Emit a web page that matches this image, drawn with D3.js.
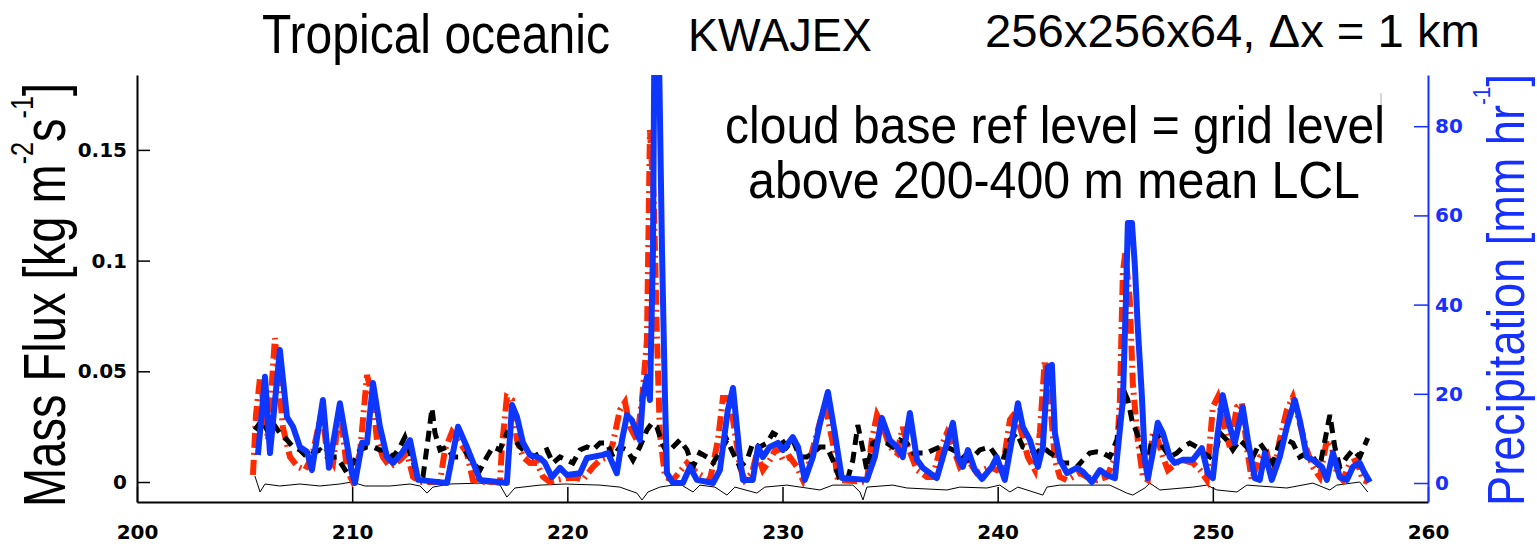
<!DOCTYPE html>
<html><head><meta charset="utf-8">
<script src="https://cdn.jsdelivr.net/npm/d3@7"></script>
<style>html,body{margin:0;padding:0;background:#fff}svg{display:block}</style>
</head><body>
<svg id="chart" width="1537" height="546"></svg>
<script>
// ---------- data ----------
const xTicks = [200, 210, 220, 230, 240, 250, 260];
const leftTicks = [0, 0.05, 0.1, 0.15];
const rightTicks = [0, 20, 40, 60, 80];

// precipitation [mm/hr] (right axis, blue solid)
const precipT = [205.62,205.95,206.18,206.64,206.97,207.25,207.57,207.90,208.13,208.64,
208.92,209.43,209.99,210.13,210.46,210.69,210.97,211.29,211.62,211.90,
212.31,212.69,213.06,214.41,214.92,215.33,215.94,217.19,217.43,217.66,
217.94,218.26,218.73,218.96,219.28,219.66,219.98,220.59,220.91,221.65,
221.89,222.30,222.54,222.77,223.00,223.23,223.37,223.51,223.70,223.84,
223.98,224.07,224.21,224.40,224.54,224.63,224.91,225.37,225.70,226.02,
226.77,227.09,227.46,227.70,228.02,228.16,228.62,228.86,229.09,229.41,
229.79,230.02,230.48,230.72,231.04,231.41,231.74,232.11,232.43,232.76,
233.92,234.29,234.62,234.99,235.32,235.59,235.92,236.25,236.52,237.17,
237.55,237.92,238.15,238.38,238.62,238.94,239.27,239.73,239.96,240.33,
240.66,240.94,241.17,241.50,241.87,242.10,242.33,242.52,242.66,242.89,
243.22,243.68,243.96,244.38,244.75,245.07,245.45,245.82,245.96,246.05,
246.24,246.38,246.51,246.70,246.84,246.98,247.21,247.44,247.68,248.00,
248.23,248.61,249.07,249.49,249.77,250.00,250.23,250.46,250.79,251.02,
251.39,251.63,251.95,252.18,252.42,252.74,253.11,253.44,253.81,254.04,
254.37,254.65,255.07,255.30,255.58,255.90,256.23,256.51,256.83,257.06,
257.30];
const precipV = [6.3,23.8,6.7,29.8,14.8,12.6,8.1,7.0,2.9,18.6,
3.4,17.9,2.2,0,9.0,9.0,22.4,12.6,5.8,4.5,
6.7,9.6,0.7,0,12.6,8.1,0.7,0,17.5,14.8,
9.0,6.3,5.6,4.5,1.3,3.4,1.8,2.2,5.6,6.3,
6.7,2.2,9.6,15.2,14.1,11.2,9.6,19.3,23.8,18.6,
52,115,112,52,18.6,2.2,0,0,3.6,0.7,
0,2.9,16.4,21.3,5.8,0.7,0.7,8.1,5.8,8.1,
9.0,7.4,10.3,8.1,0.7,5.8,13.5,20.4,11.2,1.1,
0.7,5.8,14.6,9.6,8.1,5.8,15.7,5.2,3.4,1.1,
7.4,13.5,5.8,3.6,7.4,2.9,0.9,3.6,5.8,0.7,
9.6,17.9,12.6,9.6,3.6,8.1,26.0,26.5,11.2,5.2,
2.2,3.4,2.5,0.2,2.9,1.8,1.1,18.6,41.0,58.3,
58.3,48.4,35.0,19.7,5.2,1.1,6.7,13.5,11.2,5.8,
4.5,5.2,5.2,7.8,2.2,1.1,11.2,19.7,12.6,9.0,
17.0,9.6,1.1,0.7,6.7,0.7,5.8,12.6,18.6,14.1,
5.8,5.2,3.6,0.7,6.7,1.3,0.7,3.6,4.5,2.2,
0.2];

// mass flux, red dash-dot (left axis)
const redT = [205.39,205.53,205.72,206.09,206.41,206.78,207.11,207.48,207.81,208.13,
208.60,208.83,209.11,209.43,209.76,209.99,210.36,210.69,210.97,211.15,
211.43,211.76,212.22,212.55,212.83,213.15,214.08,214.31,214.64,214.92,
215.33,215.61,215.94,216.87,216.96,217.19,217.43,217.66,217.94,218.26,
218.59,218.87,219.19,219.52,219.98,220.45,220.72,221.19,221.52,221.89,
222.12,222.44,222.68,222.91,223.23,223.47,223.70,223.84,224.02,224.16,
224.30,224.54,224.91,225.56,226.02,226.63,227.00,227.23,227.46,227.70,
227.88,228.02,228.25,228.58,228.81,229.09,229.41,229.74,230.02,230.34,
230.67,230.95,231.27,231.60,231.97,232.34,232.57,233.92,234.15,234.39,
234.67,234.99,235.32,235.59,235.83,236.25,236.71,236.99,237.31,237.64,
237.92,238.24,238.62,239.03,239.64,239.96,240.24,240.57,240.80,241.12,
241.40,241.73,241.96,242.19,242.43,242.66,242.89,243.22,243.82,244.15,
244.61,245.07,245.54,245.68,245.82,245.93,246.14,246.28,246.51,246.75,
246.98,247.21,247.44,247.68,247.91,248.33,248.61,249.07,249.40,249.72,
250.00,250.23,250.46,250.79,251.12,251.35,251.58,251.81,252.18,252.51,
252.79,253.11,253.44,253.72,254.04,254.37,254.65,254.97,255.30,255.53,
255.76,256.04,256.37,256.69,256.97,257.20];
const redV = [0.0032,0.0303,0.0474,0.0190,0.0650,0.0248,0.0113,0.0068,0.0054,0.0113,
0.0325,0.0131,0.0086,0.0339,0.0054,0.0009,0.0131,0.0483,0.0370,0.0190,
0.0113,0.0068,0.0099,0.0131,0.0023,0,0,0.0145,0.0226,0.0190,
0.0131,0.0009,0,0,0.0158,0.0384,0.0370,0.0190,0.0113,0.0086,
0.0086,0.0023,0,0.0009,0.0018,0.0018,0.0009,0.0068,0.0099,0.0113,
0.0176,0.0325,0.0361,0.0248,0.0190,0.0370,0.0641,0.1590,0.1274,0.0673,
0.0221,0.0023,0.0009,0.0086,0.0041,0.0009,0.0190,0.0379,0.0379,0.0280,
0.0167,0.0068,0.0009,0.0041,0.0131,0.0054,0.0099,0.0158,0.0099,0.0113,
0.0068,0.0009,0.0099,0.0221,0.0348,0.0176,0.0009,0,0.0190,0.0303,
0.0248,0.0158,0.0131,0.0248,0.0158,0.0054,0.0023,0.0023,0.0145,0.0221,
0.0158,0.0068,0.0099,0.0041,0.0068,0.0054,0.0068,0.0280,0.0312,0.0221,
0.0113,0.0054,0.0221,0.0551,0.0370,0.0099,0.0023,0.0009,0.0041,0.0023,
0.0009,0.0023,0.0131,0.0370,0.0950,0.1034,0.0822,0.0447,0.0190,0.0023,
0.0009,0.0221,0.0190,0.0113,0.0054,0.0086,0.0099,0.0086,0.0054,0.0009,
0.0339,0.0384,0.0280,0.0158,0.0339,0.0357,0.0158,0.0009,0.0113,0.0131,
0.0023,0.0190,0.0325,0.0384,0.0266,0.0145,0.0068,0.0023,0.0190,0.0158,
0.0041,0.0009,0.0086,0.0099,0.0009,0];

// mass flux, black dashed (left axis)
const blackT = [205.48,205.81,206.09,206.32,206.64,206.97,207.25,207.57,207.90,208.18,
208.50,208.83,209.29,209.76,210.04,210.36,210.69,210.97,211.29,211.62,
211.90,212.22,212.45,212.69,213.01,213.29,213.52,213.71,213.85,214.08,
214.41,214.68,215.01,215.33,215.61,215.94,216.26,216.54,216.87,217.19,
217.47,217.80,218.12,218.40,218.73,219.05,219.33,219.66,219.98,220.26,
220.59,220.91,221.19,221.52,221.84,222.12,222.44,222.77,223.05,223.37,
223.70,223.93,224.16,224.40,224.63,224.91,225.23,225.56,225.84,226.16,
226.49,226.77,227.09,227.42,227.70,228.02,228.35,228.62,228.95,229.28,
229.55,229.88,230.20,230.48,230.81,231.13,231.41,231.74,232.06,232.34,
232.67,233.04,233.27,233.50,233.74,233.92,234.20,234.53,234.85,235.13,
235.46,235.78,236.06,236.38,236.71,236.99,237.31,237.64,237.92,238.24,
238.57,238.85,239.17,239.64,239.96,240.24,240.57,240.89,241.17,241.50,
241.82,242.10,242.43,242.75,243.03,243.36,243.68,243.96,244.28,244.61,
244.89,245.21,245.54,245.77,245.91,246.05,246.24,246.47,246.70,246.93,
247.17,247.40,247.68,248.00,248.33,248.61,248.93,249.26,249.54,249.86,
250.19,250.33,250.65,250.93,251.25,251.58,251.86,252.18,252.51,252.79,
253.11,253.44,253.72,254.04,254.37,254.65,254.97,255.44,255.67,255.90,
256.23,256.51,256.83,257.20];
const blackV = [0.0235,0.0280,0.0226,0.0266,0.0221,0.0190,0.0158,0.0145,0.0113,0.0131,
0.0145,0.0113,0.0113,0.0041,0.0086,0.0145,0.0158,0.0158,0.0145,0.0145,
0.0113,0.0158,0.0203,0.0131,0.0041,0.0023,0.0190,0.0334,0.0221,0.0145,
0.0158,0.0113,0.0113,0.0131,0.0086,0.0054,0.0113,0.0158,0.0145,0.0221,
0.0203,0.0158,0.0131,0.0113,0.0131,0.0145,0.0086,0.0113,0.0099,0.0086,
0.0145,0.0158,0.0145,0.0176,0.0176,0.0113,0.0158,0.0145,0.0099,0.0158,
0.0235,0.0266,0.0248,0.0176,0.0131,0.0158,0.0190,0.0145,0.0068,0.0131,
0.0113,0.0086,0.0136,0.0190,0.0131,0.0068,0.0099,0.0176,0.0158,0.0176,
0.0221,0.0203,0.0158,0.0190,0.0113,0.0113,0.0131,0.0158,0.0158,0.0099,
0.0009,0.0018,0.0099,0.0257,0.0145,0.0054,0.0176,0.0190,0.0176,0.0158,
0.0190,0.0176,0.0131,0.0131,0.0131,0.0145,0.0158,0.0158,0.0145,0.0131,
0.0099,0.0113,0.0145,0.0158,0.0113,0.0099,0.0190,0.0221,0.0158,0.0145,
0.0131,0.0158,0.0131,0.0113,0.0086,0.0086,0.0068,0.0099,0.0131,0.0136,
0.0131,0.0113,0.0190,0.0325,0.0402,0.0370,0.0280,0.0221,0.0158,0.0068,
0.0190,0.0221,0.0158,0.0113,0.0131,0.0158,0.0176,0.0158,0.0131,0.0113,
0.0158,0.0221,0.0190,0.0145,0.0190,0.0158,0.0113,0.0176,0.0131,0.0086,
0.0176,0.0190,0.0176,0.0113,0.0131,0.0113,0.0068,0.0303,0.0158,0.0068,
0.0113,0.0145,0.0113,0.0199];

// thin black solid (left axis)
const thinT = [205.48,205.72,205.95,206.64,207.57,208.50,209.43,209.99,210.59,211.76,
212.69,213.15,213.48,213.75,214.54,215.94,216.87,217.19,217.56,218.73,
219.89,221.52,222.44,223.23,223.47,223.75,224.30,225.23,225.84,226.16,
226.86,227.42,227.79,228.81,229.18,230.20,231.74,232.34,233.27,233.60,
233.74,233.92,235.13,235.78,237.64,238.24,239.50,240.10,240.57,240.94,
242.10,242.29,242.89,245.21,246.00,246.28,246.84,247.07,247.54,249.07,
249.72,250.19,251.12,251.58,253.44,254.65,255.44,255.76,256.83,257.20];
const thinV = [0.0027,-0.0045,-0.0009,-0.0018,-0.0009,-0.0018,-0.0009,0,-0.0018,-0.0018,
-0.0009,-0.0018,-0.0050,-0.0023,-0.0009,-0.0005,-0.0014,-0.0068,-0.0027,-0.0014,
-0.0009,-0.0014,-0.0023,-0.0050,-0.0081,-0.0045,-0.0023,-0.0009,-0.0045,-0.0014,
-0.0023,-0.0059,-0.0023,-0.0050,-0.0023,-0.0014,-0.0036,-0.0014,-0.0014,-0.0045,
-0.0081,-0.0023,-0.0014,-0.0027,-0.0036,-0.0023,-0.0027,-0.0014,-0.0045,-0.0023,
-0.0059,-0.0023,-0.0014,-0.0014,-0.0050,-0.0059,-0.0027,-0.0005,-0.0036,-0.0023,
-0.0014,-0.0036,-0.0045,-0.0014,-0.0027,-0.0005,-0.0036,-0.0014,0,-0.0045];

// ---------- drawing ----------
const W = 1537, H = 546;
const FONT = "'Liberation Sans', Arial, Helvetica, sans-serif";
const TICKFONT = "'DejaVu Sans', sans-serif";
const BLUE_LINE = "#0d36ff", BLUE_AXIS = "#1530ff", RED = "#ff2a00";
const svg = d3.select("#chart");
svg.append("rect").attr("width", W).attr("height", H).attr("fill", "#fff");

const plot = {left: 137, right: 1428, top: 75, bottom: 502};
const x = d3.scaleLinear().domain([200, 260]).range([plot.left, plot.right]);
const yL = d3.scaleLinear().domain([-0.00903, 0.18383]).range([plot.bottom, plot.top]);
const yR = d3.scaleLinear().domain([-4.26, 91.48]).range([plot.bottom, plot.top]);

svg.append("clipPath").attr("id", "clip").append("rect")
  .attr("x", plot.left).attr("y", plot.top)
  .attr("width", plot.right - plot.left).attr("height", plot.bottom - plot.top);

const g = svg.append("g").attr("clip-path", "url(#clip)");
const lineL = d3.line().x(d => x(d[0])).y(d => yL(d[1]));
const lineR = d3.line().x(d => x(d[0])).y(d => yR(d[1]));

g.append("path").datum(d3.zip(thinT, thinV)).attr("d", lineL)
  .attr("fill", "none").attr("stroke", "#000").attr("stroke-width", 1);
g.append("path").datum(d3.zip(redT, redV)).attr("d", lineL)
  .attr("fill", "none").attr("stroke", RED).attr("stroke-width", 6)
  .attr("stroke-dasharray", "15,5,2,5");
g.append("path").datum(d3.zip(blackT, blackV)).attr("d", lineL)
  .attr("fill", "none").attr("stroke", "#000").attr("stroke-width", 5)
  .attr("stroke-dasharray", "11,7");
g.append("path").datum(d3.zip(precipT, precipV)).attr("d", lineR)
  .attr("fill", "none").attr("stroke", BLUE_LINE).attr("stroke-width", 6)
  .attr("stroke-linejoin", "round");

// axes
const tickFont = (sel, color) => sel.selectAll("text")
  .attr("font-family", TICKFONT).attr("font-size", 20).attr("font-weight", "bold").attr("fill", color);

const ax = svg.append("g").attr("transform", `translate(0,${plot.bottom})`)
  .call(d3.axisBottom(x).tickValues(xTicks).tickFormat(d3.format("d"))
    .tickSize(-15).tickSizeOuter(0).tickPadding(23));
ax.select(".domain").attr("stroke", "#000").attr("stroke-width", 2);
ax.selectAll(".tick line").attr("stroke", "#000").attr("stroke-width", 1.5);
tickFont(ax, "#000");

const al = svg.append("g").attr("transform", `translate(${plot.left},0)`)
  .call(d3.axisLeft(yL).tickValues(leftTicks).tickFormat(d => d === 0 ? "0" : String(d))
    .tickSize(-13).tickSizeOuter(0).tickPadding(10));
al.select(".domain").attr("stroke", "#000").attr("stroke-width", 2);
al.selectAll(".tick line").attr("stroke", "#000").attr("stroke-width", 1.5);
tickFont(al, "#000");

const ar = svg.append("g").attr("transform", `translate(${plot.right},0)`)
  .call(d3.axisRight(yR).tickValues(rightTicks).tickFormat(d3.format("d"))
    .tickSize(-14).tickSizeOuter(0).tickPadding(7));
ar.select(".domain").attr("stroke", BLUE_AXIS).attr("stroke-width", 2);
ar.selectAll(".tick line").attr("stroke", BLUE_AXIS).attr("stroke-width", 1.5);
tickFont(ar, BLUE_AXIS);

// small gray box edge near top right
svg.append("line").attr("x1", 1381).attr("x2", 1381).attr("y1", 93).attr("y2", 137)
  .attr("stroke", "#b0b0b0").attr("stroke-width", 1);

// ---------- text helpers ----------
function fitText(parts, opts) {
  const t = svg.append("text").attr("font-family", FONT).attr("font-size", opts.size)
    .attr("fill", opts.color || "#000").attr("text-anchor", opts.anchor || "start");
  parts.forEach(p => {
    const ts = t.append("tspan").text(p.text);
    if (p.sup) ts.attr("font-size", p.sup).attr("dy", -p.raise);
    if (p.back) ts.attr("dy", p.back);
  });
  const w = t.node().getBBox().width;
  const s = opts.length / w;
  const rot = opts.rotate ? " rotate(-90)" : "";
  t.attr("transform", `translate(${opts.x},${opts.y})${rot} scale(${s},1)`);
  return t;
}

fitText([{text: "Tropical oceanic"}], {x: 262, y: 53, size: 55, length: 348});
fitText([{text: "KWAJEX"}], {x: 688, y: 51, size: 47, length: 184});
fitText([{text: "256x256x64, \u0394x = 1 km"}], {x: 985, y: 47, size: 47, length: 495});
fitText([{text: "cloud base ref level = grid level"}], {x: 1055, y: 143, size: 52, length: 660, anchor: "middle"});
fitText([{text: "above 200-400 m mean LCL"}], {x: 1054, y: 198, size: 51, length: 612, anchor: "middle"});

fitText([
  {text: "Mass Flux [kg m"},
  {text: "-2", sup: 32, raise: 32},
  {text: "s", back: 32},
  {text: "-1", sup: 32, raise: 32},
  {text: "]", back: 32}
], {x: 65, y: 295, size: 60, length: 424, anchor: "middle", rotate: true});

fitText([
  {text: "Precipitation [mm hr"},
  {text: "-1", sup: 24, raise: 34},
  {text: "]", back: 34}
], {x: 1524, y: 290, size: 52, length: 432, anchor: "middle", rotate: true, color: BLUE_AXIS});
</script>
</body></html>
